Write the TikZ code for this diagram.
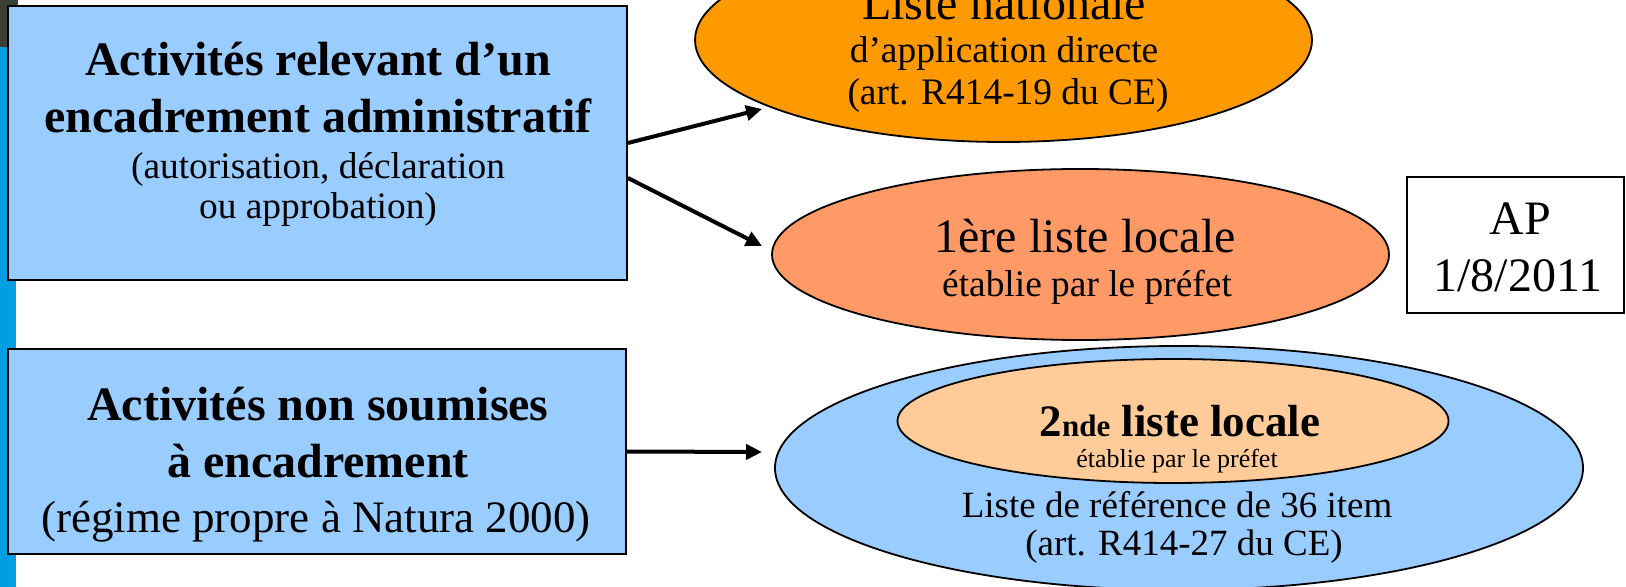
\documentclass[tikz,border=0pt]{standalone}
\usepackage{fontspec}
\setmainfont{Liberation Serif}
\usetikzlibrary{shapes.geometric,arrows.meta}
\definecolor{boxblue}{HTML}{99CCFF}
\definecolor{stripe}{HTML}{009FE3}
\definecolor{darkcorner}{HTML}{3C4034}
\definecolor{orangeA}{HTML}{FF9900}
\definecolor{orangeB}{HTML}{FF9966}
\definecolor{peach}{HTML}{FFCC99}
\begin{document}
\begin{tikzpicture}[x=0.5pt,y=-0.5pt,
  box/.style={draw=black, line width=0.9pt, rectangle, inner sep=0pt},
  ell/.style={draw=black, line width=0.9pt, ellipse, inner sep=0pt},
  txt/.style={anchor=base, inner sep=0pt, align=center},
  big/.style={font=\fontsize{24}{28}\selectfont},
  bigb/.style={font=\fontsize{24}{28}\selectfont\bfseries},
  small/.style={font=\fontsize{18.7}{21}\selectfont},
  arr/.style={line width=2pt, -{Triangle[length=8pt,width=7.5pt]}}
]
\useasboundingbox (0,0) rectangle (1626,587);
\clip (0,0) rectangle (1626,587);
% left stripe
\fill[stripe] (0,40) rectangle (16,587);
\fill[darkcorner] (0,0) rectangle (18,47);

% boxes
\node[box, fill=boxblue, minimum width=309.5pt, minimum height=137pt] (box1) at (317.5,143) {};
\node[box, fill=boxblue, minimum width=309pt, minimum height=102.5pt] (box2) at (317,451.5) {};
\node[box, fill=white, minimum width=108.5pt, minimum height=68pt] (ap) at (1515.5,245) {};

% ellipses
\node[ell, fill=orangeA, minimum width=308.5pt, minimum height=102pt] (e1) at (1003.5,40) {};
\node[ell, fill=orangeB, minimum width=308.5pt, minimum height=85.5pt] (e2) at (1080.5,254.5) {};
\node[ell, fill=boxblue, minimum width=404pt, minimum height=122pt] (e3) at (1179,468) {};
\node[ell, fill=peach, minimum width=275.5pt, minimum height=62pt] (e4) at (1173,421) {};

% box1 text
\node[txt, bigb] (b1l1) at (318,76) {Activités relevant d’un};
\node[txt, bigb] (b1l2) at (318,133) {encadrement administratif};
\node[txt, small] (b1l3) at (318,179) {(autorisation, déclaration};
\node[txt, small] (b1l4) at (318,219) {ou approbation)};

% box2 text
\node[txt, bigb] (b2l1) at (318,420) {Activités non soumises};
\node[txt, bigb] (b2l2) at (318,477) {à encadrement};
\node[txt, font=\fontsize{22.5}{26}\selectfont] (b2l3) at (316,532) {(régime propre à Natura 2000)};

% ellipse 1 text
\node[txt, big] (e1l1) at (1004,20) {Liste nationale};
\node[txt, small] (e1l2) at (1004,63) {d’application directe};
\node[txt, small] (e1l3) at (1008,105) {(art. R414-19 du CE)};

% ellipse 2 text
\node[txt, big] (e2l1) at (1085,253) {1ère liste locale};
\node[txt, small] (e2l2) at (1087,297) {établie par le préfet};

% AP text
\node[txt, big] (apl1) at (1520,235) {AP};
\node[txt, big] (apl2) at (1518,292) {1/8/2011};

% inner ellipse text
\node[txt, font=\fontsize{22.5}{26}\selectfont\bfseries] (e4l1) at (1180,436) {2{\fontsize{15.5}{18}\selectfont nde} liste locale};
\node[txt, font=\fontsize{13}{15}\selectfont] (e4l2) at (1177,467) {établie par le préfet};

% outer ellipse text
\node[txt, font=\fontsize{18.5}{21}\selectfont] (e3l1) at (1177,517) {Liste de référence de 36 item};
\node[txt, font=\fontsize{18.5}{21}\selectfont] (e3l2) at (1184,555) {(art. R414-27 du CE)};

% arrows
\coordinate (t1) at (762,109);
\coordinate (t2) at (762,246);
\coordinate (t3) at (762,452);
\draw[arr] (box1.east) -- (t1);
\draw[arr] ([yshift=-17.5pt]box1.east) -- (t2);
\draw[arr] (box2.east) -- (t3);
\end{tikzpicture}
\end{document}
